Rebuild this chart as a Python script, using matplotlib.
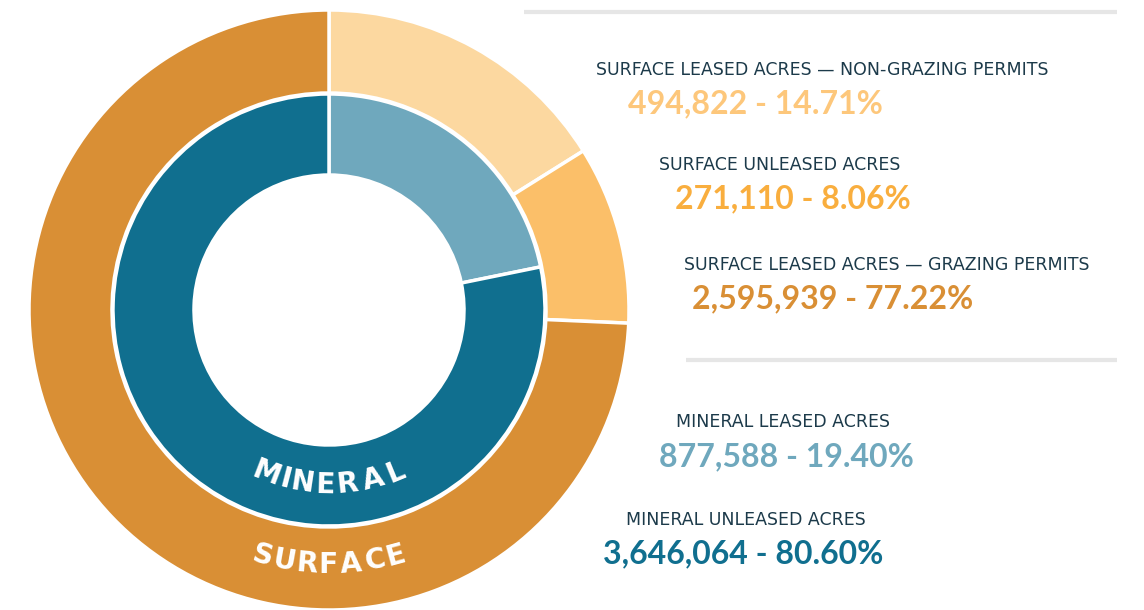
import matplotlib
matplotlib.use("Agg")
import numpy as np
import matplotlib.pyplot as plt
from matplotlib.textpath import TextPath
from matplotlib.font_manager import FontProperties

# reported figures
labels = [
    "SURFACE LEASED ACRES \u2014 NON-GRAZING PERMITS",
    "SURFACE UNLEASED ACRES",
    "SURFACE LEASED ACRES \u2014 GRAZING PERMITS",
    "MINERAL LEASED ACRES",
    "MINERAL UNLEASED ACRES",
]
acres = [494822, 271110, 2595939, 877588, 3646064]
percents = [14.71, 8.06, 77.22, 19.40, 80.60]

# slice shares as drawn in the picture (outer = surface, inner = mineral)
surface_shares = [16.1, 9.6, 74.3]
mineral_shares = [21.8, 78.2]

surface_colors = ["#FCD8A0", "#FBBF69", "#D98F35"]
mineral_colors = ["#6FA8BD", "#106F8F"]
value_colors = ["#FDC77B", "#F9AE3E", "#D98F35", "#6FA8BD", "#106F8F"]
label_color = "#1C3A4A"

W, H = 1144, 610
fig = plt.figure(figsize=(W / 100, H / 100), dpi=100)
ax = fig.add_axes([0, 0, 1, 1])

cx, cy = 329, 300
ax.pie(surface_shares, colors=surface_colors, radius=300, center=(cx, cy),
       startangle=90, counterclock=False,
       wedgeprops=dict(width=83, edgecolor="white", linewidth=2.5))
ax.pie(mineral_shares, colors=mineral_colors, radius=216, center=(cx, cy),
       startangle=90, counterclock=False,
       wedgeprops=dict(width=81, edgecolor="white", linewidth=2.5))


def curved_text(word, radius, size, spacing):
    # place letters one by one along the bottom of a ring
    fp = FontProperties(family="DejaVu Sans", weight="bold")
    widths = [TextPath((0, 0), ch, size=size, prop=fp).get_extents().width
              for ch in word]
    total = sum(widths) + spacing * (len(word) - 1)
    pos = 0.0
    for ch, w in zip(word, widths):
        mid = pos + w / 2
        theta = -90 + np.degrees((mid - total / 2) / radius)
        x = cx + radius * np.cos(np.radians(theta))
        y = cy + radius * np.sin(np.radians(theta))
        ax.text(x, y, ch, fontproperties=fp, fontsize=size * 72 / 100,
                color="white", ha="center", va="center",
                rotation=theta + 90, rotation_mode="anchor")
        pos += w + spacing


curved_text("MINERAL", 175, 28, 6)
curved_text("SURFACE", 255, 28, 5)

# divider lines
ax.plot([524, 1117], [598, 598], color="#E6E6E6", lw=3, solid_capstyle="butt")
ax.plot([686, 1117], [250, 250], color="#E6E6E6", lw=3, solid_capstyle="butt")

label_x = [596, 659, 684, 676, 626]
label_y = [70, 165, 265, 422, 520]
value_x = [628, 675, 692, 659, 603]
value_y = [104, 199, 299, 457, 554]

for i in range(len(labels)):
    ax.text(label_x[i], H - label_y[i], labels[i], fontsize=12.5,
            family="DejaVu Sans", color=label_color, ha="left", va="center")
    ax.text(value_x[i], H - value_y[i], f"{acres[i]:,} - {percents[i]:.2f}%",
            fontsize=23, family="Lato", fontweight="bold",
            color=value_colors[i], ha="left", va="center")

ax.set_xlim(0, W)
ax.set_ylim(0, H)
ax.set_aspect("equal")
ax.axis("off")

fig.savefig("out.png", dpi=100)
